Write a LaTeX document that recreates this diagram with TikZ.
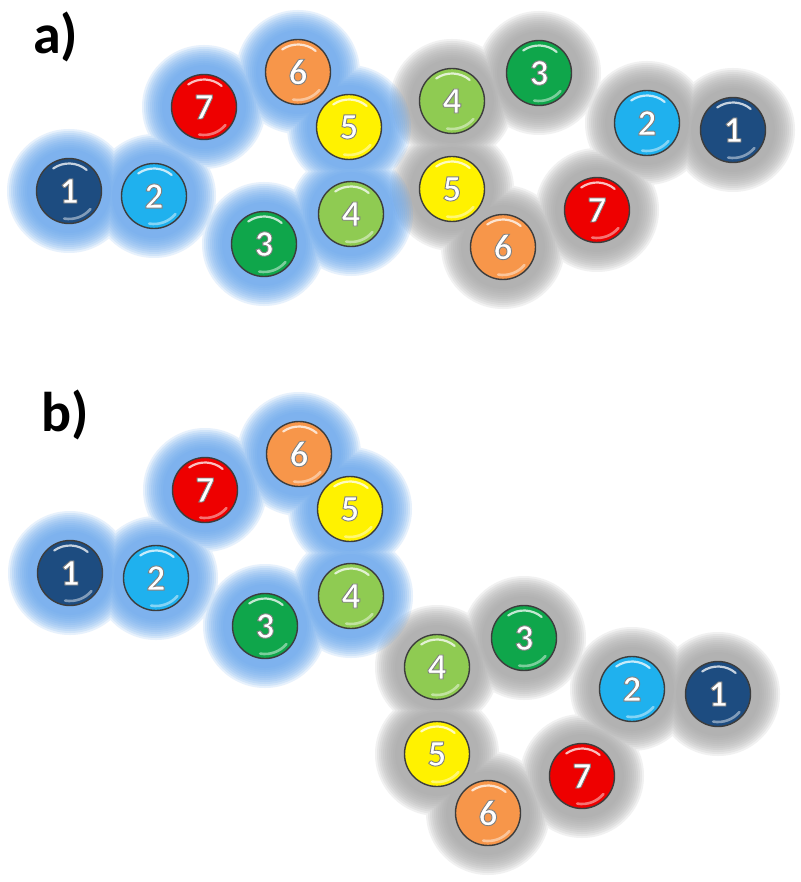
\documentclass[tikz,border=0pt]{standalone}
\usepackage{fontspec}
\setmainfont{Carlito}
\pgfdeclarelayer{bg}
\pgfsetlayers{bg,main}
\definecolor{c1}{HTML}{1D4C80}
\definecolor{c2}{HTML}{1FB1EE}
\definecolor{c3}{HTML}{0FA64B}
\definecolor{c4}{HTML}{8FCB52}
\definecolor{c5}{HTML}{FFF200}
\definecolor{c6}{HTML}{F7964A}
\definecolor{c7}{HTML}{EE0000}
\definecolor{haloB}{HTML}{6AA8EE}
\definecolor{haloG}{HTML}{A8A8A8}
\definecolor{rim}{HTML}{3C3C3C}
\newcommand{\outl}[1]{\special{pdf:literal direct 2 Tr 0.9 w 0.5 G}#1\special{pdf:literal direct 0 Tr 0.4 w}}
\tikzset{
  ball/.style={circle, minimum size=65pt, inner sep=0pt, draw=rim, line width=1.4pt,
    fill=#1, font=\fontsize{37}{37}\selectfont\bfseries, text=white},
  panellabel/.style={anchor=base west, inner sep=0pt, font=\fontsize{56}{56}\selectfont\bfseries},
  glosstop/.style={white, opacity=0.75, line width=2.2pt, line cap=round},
  glossbot/.style={white, opacity=0.45, line width=2.6pt, line cap=round}
}
\newcommand{\gloss}[1]{%
  \draw[glosstop] (#1.center) ++(50:27.5pt) arc[start angle=50,end angle=125,radius=27.5pt];
  \draw[glossbot] (#1.center) ++(-40:28pt) arc[start angle=-40,end angle=-100,radius=28pt];}
\newcommand{\halo}[2]{%
  \foreach \r in {62,60,58,56,54,52,50,48,46,44,42}{
    \fill[#1, opacity=0.16] \foreach \n in {#2}{(\n) circle (\r pt)};
  }}
\begin{document}
\begin{tikzpicture}[x=1pt,y=1pt]
\useasboundingbox (0,0) rectangle (800,-882);
% panel labels
\node[panellabel] (la) at (33,-54) {a)};
\node[panellabel] (lb) at (41,-431) {b)};
% panel a, blue chain
\node[ball=c1] (a1) at (69,-191) {\outl{1}};
\node[ball=c2] (a2) at (154,-196) {\outl{2}};
\node[ball=c3] (a3) at (264,-244) {\outl{3}};
\node[ball=c4] (a4) at (351,-214) {\outl{4}};
\node[ball=c5] (a5) at (349,-127) {\outl{5}};
\node[ball=c6] (a6) at (298,-72) {\outl{6}};
\node[ball=c7] (a7) at (204,-107) {\outl{7}};
% panel a, gray chain
\node[ball=c1] (g1) at (733,-130) {\outl{1}};
\node[ball=c2] (g2) at (647,-123) {\outl{2}};
\node[ball=c3] (g3) at (539,-73) {\outl{3}};
\node[ball=c4] (g4) at (452,-101) {\outl{4}};
\node[ball=c5] (g5) at (452,-189) {\outl{5}};
\node[ball=c6] (g6) at (503,-247) {\outl{6}};
\node[ball=c7] (g7) at (597,-210) {\outl{7}};
% panel b, blue chain
\node[ball=c1] (b1) at (70,-573) {\outl{1}};
\node[ball=c2] (b2) at (156,-578) {\outl{2}};
\node[ball=c3] (b3) at (265,-626) {\outl{3}};
\node[ball=c4] (b4) at (351,-596) {\outl{4}};
\node[ball=c5] (b5) at (350,-509) {\outl{5}};
\node[ball=c6] (b6) at (299,-454) {\outl{6}};
\node[ball=c7] (b7) at (205,-490) {\outl{7}};
% panel b, gray chain
\node[ball=c1] (h1) at (718,-694) {\outl{1}};
\node[ball=c2] (h2) at (632,-689) {\outl{2}};
\node[ball=c3] (h3) at (524,-638) {\outl{3}};
\node[ball=c4] (h4) at (437,-667) {\outl{4}};
\node[ball=c5] (h5) at (437,-754) {\outl{5}};
\node[ball=c6] (h6) at (488,-813) {\outl{6}};
\node[ball=c7] (h7) at (582,-776) {\outl{7}};
% gloss
\foreach \n in {a1,a2,a3,a4,a5,a6,a7,g1,g2,g3,g4,g5,g6,g7,b1,b2,b3,b4,b5,b6,b7,h1,h2,h3,h4,h5,h6,h7}{\gloss{\n}}
% halos
\begin{pgfonlayer}{bg}
\fill[white] (0,0) rectangle (800,-882);
\halo{haloG}{g1,g2,g3,g4,g5,g6,g7}
\halo{haloB}{a1,a2,a3,a4,a5,a6,a7}
\halo{haloG}{h1,h2,h3,h4,h5,h6,h7}
\halo{haloB}{b1,b2,b3,b4,b5,b6,b7}
\end{pgfonlayer}
\end{tikzpicture}
\end{document}
